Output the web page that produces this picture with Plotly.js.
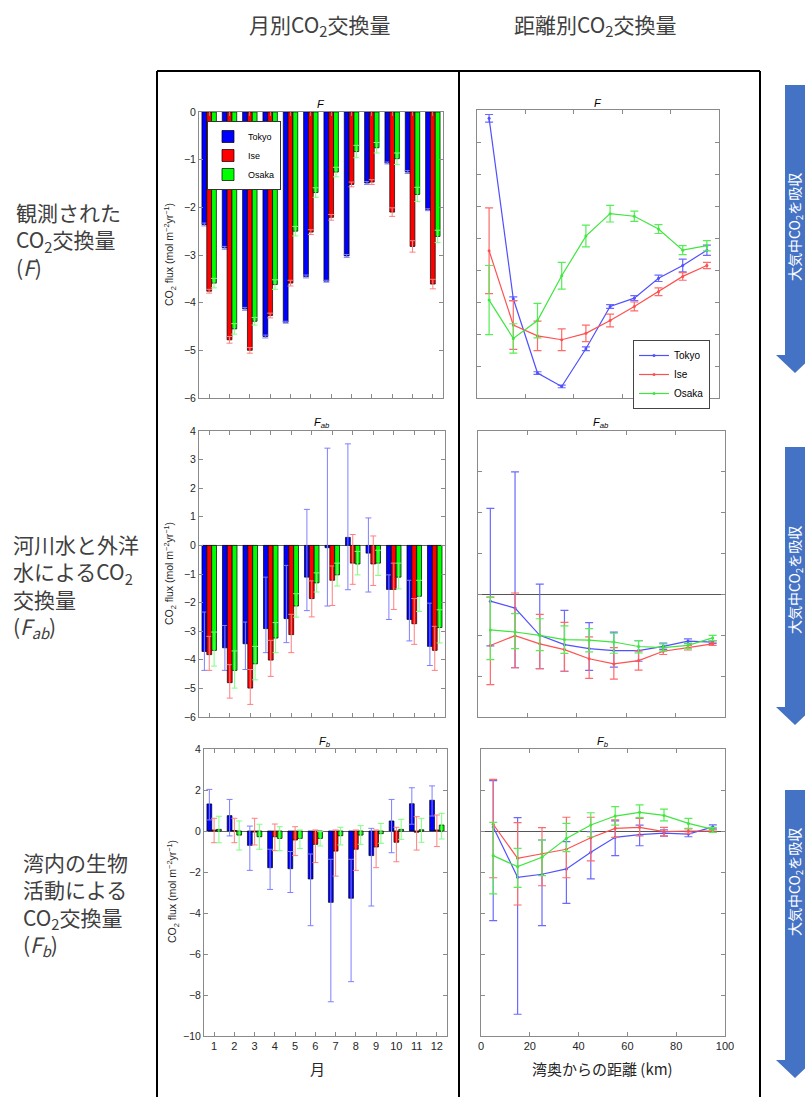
<!DOCTYPE html>
<html>
<head>
<meta charset="utf-8">
<script src="https://cdn.plot.ly/plotly-3.0.1.min.js"></script>
<style>html,body{margin:0;padding:0;background:#fff;}#chart{width:805px;height:1097px;}</style>
</head>
<body>
<div id="chart"></div>
<script>
// ---------- DATA ----------
var months = [1,2,3,4,5,6,7,8,9,10,11,12];
var monthLabels = ['1','2','3','4','5','6','7','8','9','10','11','12'];
var dist = [5,15,25,35,45,55,65,75,85,95];
var distTicks = [0,20,40,60,80,100];
var seriesNames = ['Tokyo','Ise','Osaka'];

// F (observed) by month
var fMonTokyo = [-2.36,-2.85,-4.13,-4.71,-4.41,-3.45,-3.55,-3.02,-1.49,-1.07,-1.26,-2.05];
var fMonTokyoErr = [0.03,0.03,0.03,0.03,0.02,0.03,0.02,0.03,0.03,0.02,0.03,0.02];
var fMonIse = [-3.76,-4.78,-5.00,-4.27,-3.59,-2.52,-2.21,-1.52,-1.47,-2.10,-2.82,-3.61];
var fMonIseErr = [0.04,0.07,0.06,0.05,0.06,0.05,0.06,0.05,0.05,0.09,0.12,0.10];
var fMonOsaka = [-3.59,-4.55,-4.39,-3.62,-2.50,-1.69,-1.26,-0.83,-0.75,-0.98,-1.73,-2.61];
var fMonOsakaErr = [0.10,0.11,0.08,0.10,0.10,0.10,0.10,0.13,0.11,0.12,0.15,0.13];

// Fab by month (value, upper cap, lower cap)
var fabMonTokyo = [-3.71,-3.58,-3.44,-2.91,-2.56,-1.11,-0.08,0.28,-0.27,-1.54,-2.59,-3.53];
var fabMonTokyoHi = [-2.33,-2.80,-2.68,-1.11,-0.70,1.26,3.40,3.55,0.96,-1.03,-1.22,-2.02];
var fabMonTokyoLo = [-4.37,-4.37,-4.34,-3.75,-3.40,-2.28,-2.12,-1.55,-1.63,-2.59,-3.34,-4.20];
var fabMonIse = [-3.82,-4.80,-4.99,-4.01,-3.12,-1.86,-1.22,-0.62,-0.65,-1.54,-2.74,-3.67];
var fabMonIseHi = [-3.18,-4.17,-4.34,-3.32,-2.41,-1.24,-0.72,0.38,0.33,-0.62,-1.86,-2.83];
var fabMonIseLo = [-4.37,-5.34,-5.56,-4.58,-3.75,-2.50,-2.10,-1.36,-1.40,-2.24,-3.46,-4.37];
var fabMonOsaka = [-3.67,-4.37,-4.14,-3.24,-2.12,-1.31,-1.03,-0.65,-0.62,-1.11,-1.78,-2.87];
var fabMonOsakaHi = [-3.03,-3.69,-3.53,-2.70,-1.69,-0.96,-0.62,-0.21,-0.17,-0.62,-1.22,-2.25];
var fabMonOsakaLo = [-4.22,-4.99,-4.70,-3.75,-2.51,-1.63,-1.42,-1.03,-1.05,-1.52,-2.31,-3.41];

// Fb by month
var fbMonTokyo = [1.32,0.75,-0.70,-1.79,-1.84,-2.34,-3.48,-3.28,-1.20,0.49,1.33,1.50];
var fbMonTokyoHi = [2.03,1.54,0.24,-0.89,-1.00,-1.12,-1.38,-1.38,0.13,1.54,2.11,2.20];
var fbMonTokyoLo = [0.54,-0.24,-1.92,-2.85,-3.00,-4.62,-8.33,-7.35,-3.66,-1.06,0.33,0.73];
var fbMonIse = [0.05,0.02,-0.05,-0.28,-0.44,-0.65,-0.98,-0.89,-0.78,-0.55,-0.06,0.05];
var fbMonIseHi = [0.62,0.62,0.62,0.34,0.21,0.05,0.05,0.05,0.05,0.18,0.70,0.78];
var fbMonIseLo = [-0.57,-0.57,-0.68,-0.96,-1.20,-1.54,-2.20,-1.92,-1.79,-1.50,-0.93,-0.76];
var fbMonOsaka = [0.08,-0.20,-0.28,-0.36,-0.36,-0.36,-0.23,-0.20,-0.13,0.08,0.06,0.29];
var fbMonOsakaHi = [0.72,0.49,0.33,0.21,0.05,-0.03,0.18,0.26,0.37,0.57,0.62,0.86];
var fbMonOsakaLo = [-0.57,-0.93,-0.89,-0.96,-0.85,-0.73,-0.68,-0.65,-0.60,-0.41,-0.55,-0.39];

// F by distance
var fDistTokyo = [-0.13,-2.95,-4.11,-4.32,-3.73,-3.07,-2.94,-2.63,-2.43,-2.19];
var fDistTokyoErr = [0.06,0.03,0.02,0.02,0.03,0.03,0.04,0.05,0.10,0.08];
var fDistIse = [-2.20,-3.36,-3.53,-3.59,-3.49,-3.29,-3.07,-2.84,-2.60,-2.43];
var fDistIseErr = [0.67,0.38,0.23,0.17,0.13,0.10,0.07,0.06,0.06,0.05];
var fDistOsaka = [-2.97,-3.57,-3.29,-2.59,-1.97,-1.62,-1.66,-1.86,-2.19,-2.12];
var fDistOsakaErr = [0.54,0.23,0.27,0.21,0.17,0.13,0.08,0.07,0.07,0.08];

// Fab by distance
var fabDistTokyo = [-0.33,-0.67,-2.00,-2.46,-2.65,-2.75,-2.75,-2.54,-2.29,-2.33];
var fabDistTokyoHi = [4.21,6.00,0.50,-0.78,-1.38,-1.85,-2.26,-2.38,-2.18,-2.26];
var fabDistTokyoLo = [-2.52,-3.59,-3.63,-3.76,-3.72,-3.56,-3.27,-2.70,-2.40,-2.41];
var fabDistIse = [-2.50,-2.02,-2.42,-2.70,-3.15,-3.40,-3.24,-2.78,-2.60,-2.42];
var fabDistIseHi = [-0.13,0.07,-0.98,-1.37,-2.08,-2.60,-2.78,-2.62,-2.49,-2.34];
var fabDistIseLo = [-4.42,-3.59,-3.63,-3.76,-4.11,-4.15,-3.71,-2.94,-2.72,-2.50];
var fabDistOsaka = [-1.74,-1.84,-2.00,-2.21,-2.24,-2.33,-2.55,-2.60,-2.49,-2.13];
var fabDistOsakaHi = [-0.13,-0.94,-1.19,-1.54,-1.67,-1.90,-2.26,-2.42,-2.39,-2.00];
var fabDistOsakaLo = [-3.19,-2.65,-2.75,-2.89,-2.81,-2.88,-2.86,-2.78,-2.65,-2.26];

// Fb by distance
var fbDistTokyo = [0.20,-2.26,-2.11,-1.85,-1.04,-0.31,-0.18,-0.10,-0.15,0.20];
var fbDistTokyoHi = [2.46,0.65,-0.44,-0.52,-0.03,0.49,0.29,0.05,-0.03,0.30];
var fbDistTokyoLo = [-4.37,-8.94,-4.62,-3.53,-2.34,-1.20,-0.72,-0.25,-0.28,0.10];
var fbDistIse = [0.33,-1.33,-1.11,-0.89,-0.33,0.13,0.18,-0.03,0.00,0.00];
var fbDistIseHi = [2.52,0.41,0.16,0.67,0.67,0.54,0.62,0.18,0.10,0.05];
var fbDistIseLo = [-2.28,-3.61,-2.67,-2.28,-1.46,-0.31,-0.24,-0.24,-0.13,-0.05];
var fbDistOsaka = [-1.20,-1.74,-1.28,-0.36,0.29,0.73,0.91,0.76,0.37,0.08];
var fbDistOsakaHi = [0.42,-0.85,-0.44,0.37,0.89,1.19,1.27,1.07,0.62,0.18];
var fbDistOsakaLo = [-3.07,-2.75,-2.18,-1.01,-0.28,0.29,0.65,0.49,0.13,-0.07];

// ---------- STYLE ----------
var W = 805, H = 1097;
function px(x){ return x / W; }
function py(y){ return 1 - y / H; }
var barColors = ['#0000ff','#ff0000','#00ff00'];
var barErrColors = ['#7f7fff','#ff7f7f','#7fff7f'];
var lineColors = ['#5050ff','#ff5050','#3ee63e'];
var lineErrColors = ['#6a6aff','#ff6a6a','#55ee55'];
var CJK = '"Noto Sans CJK JP", "Noto Sans", sans-serif';
var SANS = '"Liberation Sans", Arial, sans-serif';
var axisGray = '#8a8a8a';

function upper(hi, v){ return hi.map(function(h,i){ return Math.max(0, h - v[i]); }); }
function lower(lo, v){ return lo.map(function(l,i){ return Math.max(0, v[i] - l); }); }

var traces = [];
function addBars(xa, ya, vals, errs, legendShow){
  for (var k=0;k<3;k++){
    var e = errs[k];
    var err = e.sym ? {type:'data', array:e.sym, visible:true, color:barErrColors[k], thickness:1, width:3}
                    : {type:'data', symmetric:false, array:upper(e.hi, vals[k]), arrayminus:lower(e.lo, vals[k]), visible:true, color:barErrColors[k], thickness:1, width:3};
    traces.push({type:'bar', x:months, y:vals[k], name:seriesNames[k], xaxis:xa, yaxis:ya,
      marker:{color:barColors[k], line:{color:'#000', width:0.7}},
      error_y: err, showlegend: !!legendShow, legend:'legend', hoverinfo:'x+y'});
  }
}
function addLines(xa, ya, vals, errs, legendShow){
  for (var k=0;k<3;k++){
    var e = errs[k];
    var err = e.sym ? {type:'data', array:e.sym, visible:true, color:lineErrColors[k], thickness:1.2, width:4}
                    : {type:'data', symmetric:false, array:upper(e.hi, vals[k]), arrayminus:lower(e.lo, vals[k]), visible:true, color:lineErrColors[k], thickness:1.2, width:4};
    traces.push({type:'scatter', mode:'lines+markers', x:dist, y:vals[k], name:seriesNames[k], xaxis:xa, yaxis:ya,
      line:{color:lineColors[k], width:1.2}, marker:{color:lineColors[k], size:3},
      error_y: err, showlegend: !!legendShow, legend:'legend2'});
  }
}

addBars('x','y',[fMonTokyo,fMonIse,fMonOsaka],[{sym:fMonTokyoErr},{sym:fMonIseErr},{sym:fMonOsakaErr}], true);
addLines('x2','y2',[fDistTokyo,fDistIse,fDistOsaka],[{sym:fDistTokyoErr},{sym:fDistIseErr},{sym:fDistOsakaErr}], true);
addBars('x3','y3',[fabMonTokyo,fabMonIse,fabMonOsaka],[{hi:fabMonTokyoHi,lo:fabMonTokyoLo},{hi:fabMonIseHi,lo:fabMonIseLo},{hi:fabMonOsakaHi,lo:fabMonOsakaLo}], false);
addLines('x4','y4',[fabDistTokyo,fabDistIse,fabDistOsaka],[{hi:fabDistTokyoHi,lo:fabDistTokyoLo},{hi:fabDistIseHi,lo:fabDistIseLo},{hi:fabDistOsakaHi,lo:fabDistOsakaLo}], false);
addBars('x5','y5',[fbMonTokyo,fbMonIse,fbMonOsaka],[{hi:fbMonTokyoHi,lo:fbMonTokyoLo},{hi:fbMonIseHi,lo:fbMonIseLo},{hi:fbMonOsakaHi,lo:fbMonOsakaLo}], false);
addLines('x6','y6',[fbDistTokyo,fbDistIse,fbDistOsaka],[{hi:fbDistTokyoHi,lo:fbDistTokyoLo},{hi:fbDistIseHi,lo:fbDistIseLo},{hi:fbDistOsakaHi,lo:fbDistOsakaLo}], false);

function ax(domain, opts){
  var a = {domain:domain, showline:true, mirror:'ticks', linecolor:axisGray, linewidth:1,
    ticks:'inside', ticklen:4, tickcolor:axisGray, tickwidth:1, showgrid:false, zeroline:false,
    tickfont:{family:SANS, size:10.5, color:'#262626'}, fixedrange:true};
  for (var k in opts) a[k] = opts[k];
  return a;
}
var monthAx = {range:[0.5,12.5], tickmode:'array', tickvals:months, ticktext:monthLabels};
var distAx = {range:[0,100], tickmode:'array', tickvals:distTicks};
function merge(a,b){ var o={}; for(var k in a) o[k]=a[k]; for(var k2 in b) o[k2]=b[k2]; return o; }

var rowTL = [py(398), py(112)], rowTR = [py(398), py(110)];
var rowM = [py(717), py(431)], rowB = [py(1036), py(749)];

var layout = {
  width:W, height:H, margin:{l:0,r:0,t:0,b:0}, paper_bgcolor:'#fff', plot_bgcolor:'#fff',
  font:{family:SANS, color:'#262626'},
  barmode:'group', bargap:0.29, bargroupgap:0,
  xaxis: ax([px(199),px(443)], merge(monthAx,{anchor:'y', showticklabels:false})),
  yaxis: ax(rowTL, {anchor:'x', range:[-6,0], dtick:1, tick0:0}),
  xaxis2: ax([px(477),px(719)], merge(distAx,{anchor:'y2', showticklabels:false})),
  yaxis2: ax(rowTR, {anchor:'x2', range:[-4.5,0], dtick:0.5, tick0:0, showticklabels:false}),
  xaxis3: ax([px(199),px(445)], merge(monthAx,{anchor:'y3', showticklabels:false})),
  yaxis3: ax(rowM, {anchor:'x3', range:[-6,4], dtick:1, tick0:0, zeroline:true, zerolinecolor:'#666', zerolinewidth:1}),
  xaxis4: ax([px(478),px(725)], merge(distAx,{anchor:'y4', showticklabels:false})),
  yaxis4: ax(rowM, {anchor:'x4', range:[-6,8], dtick:2, tick0:0, showticklabels:false, zeroline:true, zerolinecolor:'#555', zerolinewidth:1}),
  xaxis5: ax([px(204),px(447)], merge(monthAx,{anchor:'y5', showticklabels:true, tickfont:{family:SANS,size:11,color:'#262626'}})),
  yaxis5: ax(rowB, {anchor:'x5', range:[-10,4], dtick:2, tick0:0, zeroline:true, zerolinecolor:'#666', zerolinewidth:1}),
  xaxis6: ax([px(481),px(725)], merge(distAx,{anchor:'y6', showticklabels:true, tickfont:{family:SANS,size:11,color:'#262626'}})),
  yaxis6: ax(rowB, {anchor:'x6', range:[-10,4], dtick:2, tick0:0, showticklabels:false, zeroline:true, zerolinecolor:'#555', zerolinewidth:1}),
  legend: {x:px(207), y:py(121), xanchor:'left', yanchor:'top', bgcolor:'#fff', bordercolor:'#333', borderwidth:1,
    font:{family:SANS, size:9, color:'#000'}, tracegroupgap:0, itemwidth:30},
  legend2: {x:px(633), y:py(340), xanchor:'left', yanchor:'top', bgcolor:'#fff', bordercolor:'#444', borderwidth:1,
    font:{family:SANS, size:10, color:'#000'}, tracegroupgap:0, itemwidth:30},
  shapes: [], annotations: []
};

// frame
function line(x0,y0,x1,y1,w,c){ layout.shapes.push({type:'line', xref:'paper', yref:'paper', x0:px(x0), y0:py(y0), x1:px(x1), y1:py(y1), line:{color:c||'#000', width:w||2}}); }
line(157,71,760,71,2); line(157,71,157,1097,2); line(760,71,760,1097,2); line(459,71,459,1097,2);

// arrows
function arrow(top, headStart, tip){
  var cx = 795, sh = 10, hh = 19;
  var p = 'M '+px(cx-sh)+' '+py(top)+' L '+px(cx+sh)+' '+py(top)+' L '+px(cx+sh)+' '+py(headStart)+
          ' L '+px(cx+hh)+' '+py(headStart)+' L '+px(cx)+' '+py(tip)+' L '+px(cx-hh)+' '+py(headStart)+
          ' L '+px(cx-sh)+' '+py(headStart)+' Z';
  layout.shapes.push({type:'path', xref:'paper', yref:'paper', path:p, fillcolor:'#4472c4', line:{width:0}});
}
arrow(85,355,373); arrow(447,707,725); arrow(790,1060,1078);

function ann(text, x, y, opt){
  var a = {text:text, xref:'paper', yref:'paper', x:px(x), y:py(y), showarrow:false, xanchor:'center', yanchor:'middle',
    font:{family:CJK, size:21, color:'#404040'}};
  for (var k in opt) a[k]=opt[k];
  layout.annotations.push(a);
}
// headers
ann('月別CO<sub>2</sub>交換量', 319, 25);
ann('距離別CO<sub>2</sub>交換量', 595, 25);
// row labels (one multi-line text per row)
var L = {xanchor:'left', align:'left', font:{family:CJK, size:21, color:'#404040'}};
ann('観測された<br>CO<sub>2</sub>交換量<br>(<i>F</i>)', 14, 239, L);
ann('河川水と外洋<br>水によるCO<sub>2</sub><br>交換量<br>(<i>F<sub>ab</sub></i>)', 11, 586, L);
ann('湾内の生物<br>活動による<br>CO<sub>2</sub>交換量<br>(<i>F<sub>b</sub></i>)', 21, 904, L);
// arrow texts
var AT = {textangle:-90, font:{family:CJK, size:14, color:'#ffffff'}};
ann('大気中CO<sub>2</sub>を吸収', 795, 227, AT);
ann('大気中CO<sub>2</sub>を吸収', 795, 580, AT);
ann('大気中CO<sub>2</sub>を吸収', 795, 882, AT);
// panel titles
var PT = {font:{family:SANS, size:11, color:'#000'}};
ann('<i>F</i>', 321, 104, PT); ann('<i>F</i>', 598, 103, PT);
ann('<i>F<sub>ab</sub></i>', 322, 423, PT); ann('<i>F<sub>ab</sub></i>', 601, 423, PT);
ann('<i>F<sub>b</sub></i>', 325, 742, PT); ann('<i>F<sub>b</sub></i>', 603, 742, PT);
// y axis titles
var YT = {textangle:-90, font:{family:SANS, size:10.5, color:'#262626'}};
var ytxt = 'CO<sub>2</sub> flux (mol m<sup>−2</sup>yr<sup>−1</sup>)';
ann(ytxt, 170, 255, YT); ann(ytxt, 170, 574, YT); ann(ytxt, 173, 892, YT);
// x axis titles
ann('月', 317, 1068, {font:{family:CJK, size:15, color:'#262626'}});
ann('湾奥からの距離 (km)', 602, 1068, {font:{family:CJK, size:15, color:'#262626'}});

Plotly.newPlot('chart', traces, layout, {displayModeBar:false, staticPlot:true});
</script>
</body>
</html>
